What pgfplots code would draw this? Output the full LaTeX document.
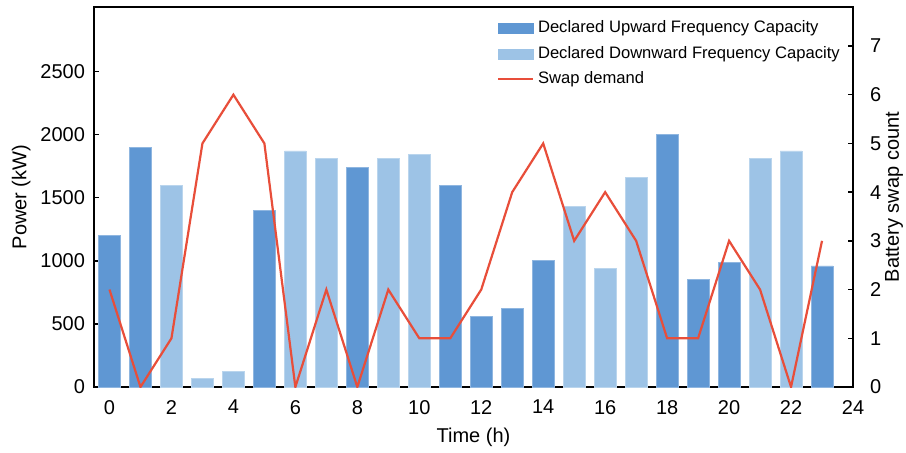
\documentclass[border=0pt]{standalone}
\usepackage{fontspec}
\setmainfont{Liberation Sans}
\usepackage{pgfplots}
\pgfplotsset{compat=1.18}
\definecolor{upc}{HTML}{5F97D3}
\definecolor{dnc}{HTML}{9DC3E6}
\definecolor{redl}{HTML}{E84E3A}
\begin{document}
\begin{tikzpicture}
\path[use as bounding box] (-47pt,-32.5pt) rectangle (406pt,193.5pt);
\begin{axis}[
  scale only axis, width=379.5pt, height=190pt,
  xmin=-0.5, xmax=24, ymin=0, ymax=3010,
  xtick={0,2,...,24}, ytick={0,500,...,2500},
  xtick pos=bottom, ytick pos=left,
  tick align=inside, major tick length=2.5pt,
  axis line style={line width=0.75pt},
  every tick/.style={black, line width=0.75pt},
  tick label style={font=\fontsize{10}{12}\selectfont},
  label style={font=\fontsize{10}{12}\selectfont},
  /pgf/number format/assume math mode=true,
  scaled y ticks=false,
  yticklabel style={/pgf/number format/1000 sep={}, xshift=-1pt},
  xticklabel style={yshift=-3pt},
  xlabel={Time (h)}, ylabel={Power (kW)},
  xlabel style={at={(axis description cs:0.5,0)}, anchor=center, yshift=-25pt},
  ylabel style={at={(axis description cs:-0.096,0.5)}, anchor=center, rotate=0},
  legend cell align=left,
  legend style={draw=none, fill=none, at={(axis description cs:0.531,0.975)}, anchor=north west,
    font=\fontsize{8.3}{10}\selectfont, row sep=1.2pt, inner sep=0pt},
]
\addplot[ybar, bar width=0.7, bar shift=0pt, fill=upc, draw=upc!70!white, line width=0.3pt,
  legend image code/.code={\fill[upc] (0pt,-2.5pt) rectangle (17.5pt,2.5pt);}]
  coordinates {(0,1200) (1,1900) (5,1400) (8,1740) (11,1600) (12,560) (13,620) (14,1000) (18,2000) (19,855) (20,985) (23,960)};
\addlegendentry{Declared Upward Frequency Capacity}
\addplot[ybar, bar width=0.7, bar shift=0pt, fill=dnc, draw=dnc!70!white, line width=0.3pt,
  legend image code/.code={\fill[dnc] (0pt,-2.5pt) rectangle (17.5pt,2.5pt);}]
  coordinates {(2,1600) (3,70) (4,125) (6,1870) (7,1810) (9,1810) (10,1840) (15,1430) (16,940) (17,1660) (21,1810) (22,1870)};
\addlegendentry{Declared Downward Frequency Capacity}
\addlegendimage{legend image code/.code={\draw[redl, line width=0.8pt] (0pt,0pt) -- (17.5pt,0pt);}}
\addlegendentry{Swap demand}
\end{axis}
\begin{axis}[
  scale only axis, width=379.5pt, height=190pt,
  xmin=-0.5, xmax=24, ymin=0, ymax=7.8,
  axis x line=none, axis y line*=right,
  ytick={0,1,...,7},
  tick align=inside, major tick length=2.5pt,
  axis line style={line width=0.75pt},
  every tick/.style={black, line width=0.75pt},
  tick label style={font=\fontsize{10}{12}\selectfont},
  yticklabel style={xshift=5pt},
  label style={font=\fontsize{10}{12}\selectfont},
  /pgf/number format/assume math mode=true,
  ylabel={Battery swap count},
  ylabel style={at={(axis description cs:1.054,0.5)}, anchor=center, rotate=0},
]
\addplot[redl, line width=1.1pt, mark=none, line join=miter]
  coordinates {(0,2) (1,0) (2,1) (3,5) (4,6) (5,5) (6,0) (7,2) (8,0) (9,2) (10,1) (11,1) (12,2) (13,4) (14,5) (15,3) (16,4) (17,3) (18,1) (19,1) (20,3) (21,2) (22,0) (23,3)};
\end{axis}
\end{tikzpicture}
\end{document}
